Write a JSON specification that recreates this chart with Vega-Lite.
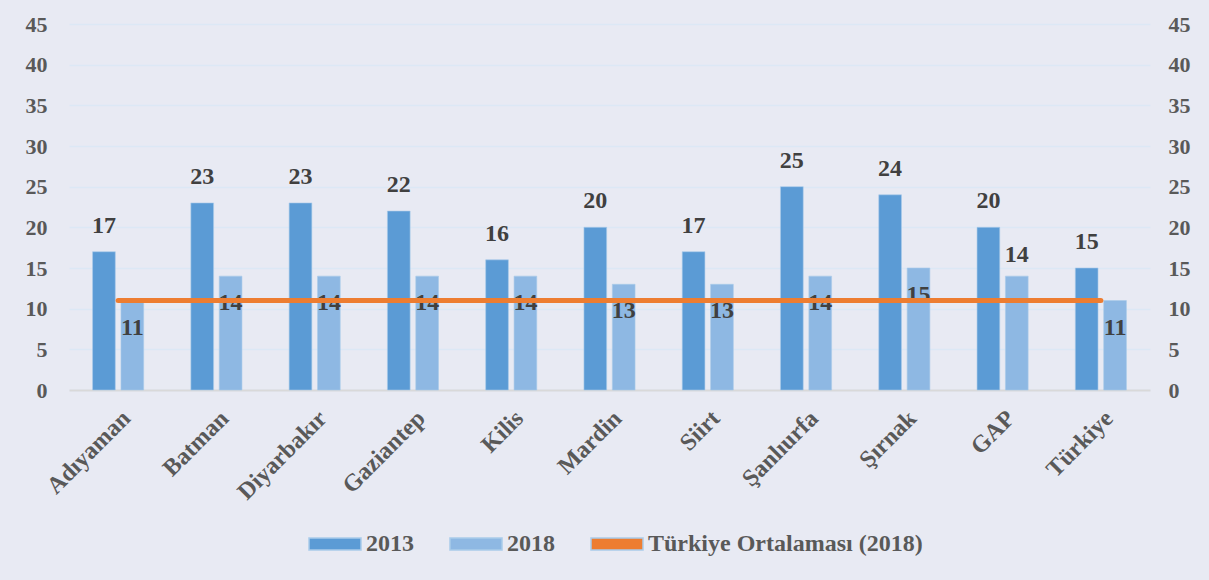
{
  "$schema": "https://vega.github.io/schema/vega-lite/v6.json",
  "width": 1081,
  "height": 366,
  "autosize": {"type": "none"},
  "padding": {"left": 69, "top": 24, "right": 59, "bottom": 190},
  "background": "#E8EAF3",
  "config": {
    "view": {"stroke": null},
    "font": "Liberation Serif",
    "axis": {"labelFont": "Liberation Serif", "labelFontWeight": "bold", "labelColor": "#595959", "labelFontSize": 22, "ticks": false, "title": null}
  },
  "datasets": {
    "bars": [
      {"il": "Adıyaman", "yil": "2013", "deger": 17}, {"il": "Adıyaman", "yil": "2018", "deger": 11},
      {"il": "Batman", "yil": "2013", "deger": 23}, {"il": "Batman", "yil": "2018", "deger": 14},
      {"il": "Diyarbakır", "yil": "2013", "deger": 23}, {"il": "Diyarbakır", "yil": "2018", "deger": 14},
      {"il": "Gaziantep", "yil": "2013", "deger": 22}, {"il": "Gaziantep", "yil": "2018", "deger": 14},
      {"il": "Kilis", "yil": "2013", "deger": 16}, {"il": "Kilis", "yil": "2018", "deger": 14},
      {"il": "Mardin", "yil": "2013", "deger": 20}, {"il": "Mardin", "yil": "2018", "deger": 13},
      {"il": "Siirt", "yil": "2013", "deger": 17}, {"il": "Siirt", "yil": "2018", "deger": 13},
      {"il": "Şanlıurfa", "yil": "2013", "deger": 25}, {"il": "Şanlıurfa", "yil": "2018", "deger": 14},
      {"il": "Şırnak", "yil": "2013", "deger": 24}, {"il": "Şırnak", "yil": "2018", "deger": 15},
      {"il": "GAP", "yil": "2013", "deger": 20}, {"il": "GAP", "yil": "2018", "deger": 14},
      {"il": "Türkiye", "yil": "2013", "deger": 15}, {"il": "Türkiye", "yil": "2018", "deger": 11}
    ],
    "ort": [
      {"il": "Adıyaman", "ort": 11}, {"il": "Batman", "ort": 11}, {"il": "Diyarbakır", "ort": 11},
      {"il": "Gaziantep", "ort": 11}, {"il": "Kilis", "ort": 11}, {"il": "Mardin", "ort": 11},
      {"il": "Siirt", "ort": 11}, {"il": "Şanlıurfa", "ort": 11}, {"il": "Şırnak", "ort": 11},
      {"il": "GAP", "ort": 11}, {"il": "Türkiye", "ort": 11}
    ]
  },
  "encoding": {
    "x": {
      "field": "il", "type": "nominal", "sort": null,
      "scale": {"paddingInner": 0.48, "paddingOuter": 0.24},
      "axis": {"labelAngle": -45, "labelAlign": "right", "labelBaseline": "top", "labelPadding": 16, "labelFontSize": 24, "domainColor": "#D9D9D9", "domainWidth": 2, "grid": false}
    }
  },
  "layer": [
    {
      "data": {"name": "bars"},
      "mark": {"type": "bar", "stroke": "#A9CBEA", "strokeWidth": 0.6},
      "encoding": {
        "xOffset": {"field": "yil", "type": "nominal", "scale": {"paddingInner": 0.2, "paddingOuter": 0}},
        "y": {"field": "deger", "type": "quantitative", "scale": {"domain": [0, 45], "nice": false},
          "axis": {"orient": "left", "values": [0,5,10,15,20,25,30,35,40,45], "domain": false, "grid": true, "gridColor": "#DCE8F5", "gridWidth": 1.5, "labelPadding": 22}},
        "color": {
          "field": "yil", "type": "nominal",
          "scale": {"domain": ["2013", "2018", "Türkiye Ortalaması (2018)"], "range": ["#5B9BD5", "#8EB8E3", "#ED7D31"]},
          "legend": {
            "title": null, "orient": "none", "direction": "horizontal", "legendX": 239, "legendY": 493,
            "symbolSize": 2704, "symbolType": "M-1,-0.23H1V0.23H-1Z", "columnPadding": 33, "labelOffset": 4, "labelLimit": 500,
            "labelFont": "Liberation Serif", "labelFontWeight": "bold", "labelFontSize": 24, "labelColor": "#595959",
            "encode": {"symbols": {"shape": {"signal": "datum.value === 'Türkiye Ortalaması (2018)' ? 'M-1.1,-0.1H1.1V0.1H-1.1Z' : 'M-1,-0.23H1V0.23H-1Z'"}}}
          }
        }
      }
    },
    {
      "data": {"name": "bars"},
      "transform": [{"filter": "datum.yil === '2013'"}],
      "mark": {"type": "text", "baseline": "middle", "dy": -26, "fontSize": 24, "fontWeight": "bold", "color": "#404040"},
      "encoding": {
        "xOffset": {"field": "yil", "type": "nominal", "scale": {"domain": ["2013", "2018"]}},
        "y": {"field": "deger", "type": "quantitative", "scale": {"domain": [0, 45], "nice": false}, "axis": null},
        "text": {"field": "deger"}
      }
    },
    {
      "data": {"name": "bars"},
      "transform": [{"filter": "datum.yil === '2018' && datum.il !== 'GAP'"}],
      "mark": {"type": "text", "baseline": "middle", "dy": 27, "fontSize": 24, "fontWeight": "bold", "color": "#404040"},
      "encoding": {
        "xOffset": {"field": "yil", "type": "nominal", "scale": {"domain": ["2013", "2018"]}},
        "y": {"field": "deger", "type": "quantitative", "scale": {"domain": [0, 45], "nice": false}, "axis": null},
        "text": {"field": "deger"}
      }
    },
    {
      "data": {"name": "bars"},
      "transform": [{"filter": "datum.yil === '2018' && datum.il === 'GAP'"}],
      "mark": {"type": "text", "baseline": "middle", "dy": -21, "fontSize": 24, "fontWeight": "bold", "color": "#404040"},
      "encoding": {
        "xOffset": {"field": "yil", "type": "nominal", "scale": {"domain": ["2013", "2018"]}},
        "y": {"field": "deger", "type": "quantitative", "scale": {"domain": [0, 45], "nice": false}, "axis": null},
        "text": {"field": "deger"}
      }
    },
    {
      "data": {"name": "ort"},
      "mark": {"type": "line", "color": "#ED7D31", "strokeWidth": 5, "strokeCap": "round"},
      "encoding": {
        "y": {"field": "ort", "type": "quantitative", "scale": {"domain": [0, 45], "nice": false},
          "axis": {"orient": "right", "values": [0,5,10,15,20,25,30,35,40,45], "domain": false, "grid": false, "labelPadding": 18}}
      }
    }
  ],
  "resolve": {"scale": {"y": "independent"}}
}
